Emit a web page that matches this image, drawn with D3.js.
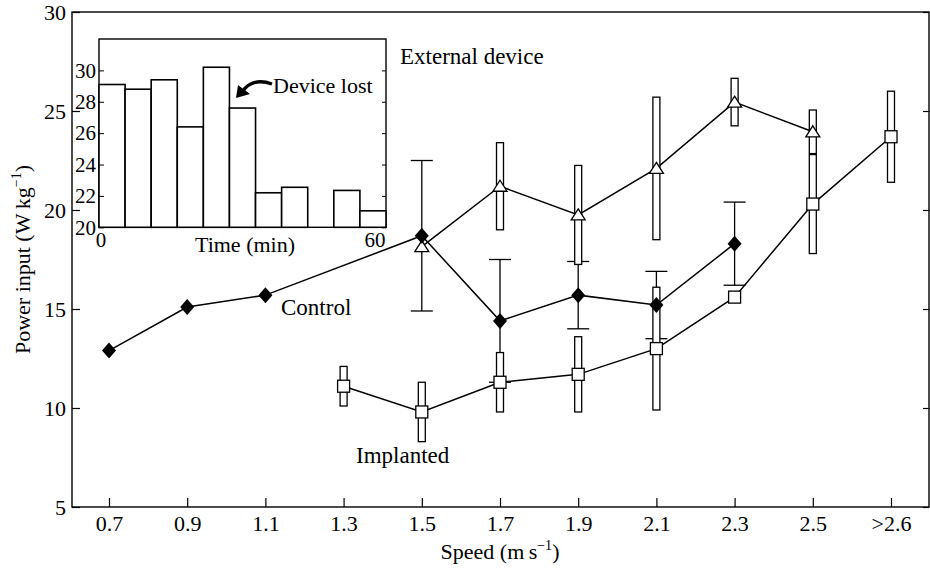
<!DOCTYPE html>
<html><head><meta charset="utf-8">
<script src="https://cdn.jsdelivr.net/npm/d3@7/dist/d3.min.js"></script>
<style>
html,body{margin:0;padding:0;background:#fff;}
svg{display:block;}
text{font-family:'Liberation Serif','Times New Roman',serif;fill:#000;}
</style></head>
<body><svg id="chart" width="930" height="568"></svg>
<script>
// ---------- data ----------
const speedLabels = ["0.7","0.9","1.1","1.3","1.5","1.7","1.9","2.1","2.3","2.5",">2.6"];
const yTicks = [5,10,15,20,25,30];

const controlSpeeds = ["0.7","0.9","1.1","1.5","1.7","1.9","2.1","2.3"];
const controlPower  = [12.9, 15.1, 15.7, 18.7, 14.4, 15.7, 15.2, 18.3];
const controlErr    = [null, null, null, 3.8, 3.1, 1.7, 1.7, 2.1];

const externalSpeeds = ["1.5","1.7","1.9","2.1","2.3","2.5"];
const externalPower  = [18.15, 21.2, 19.75, 22.1, 25.45, 23.95];
const externalErr    = [null, 2.2, 2.5, 3.6, 1.2, 1.1];

const implantedSpeeds = ["1.3","1.5","1.7","1.9","2.1","2.3","2.5",">2.6"];
const implantedPower  = [11.1, 9.8, 11.3, 11.7, 13.0, 15.6, 20.3, 23.7];
const implantedErr    = [1.0, 1.5, 1.5, 1.9, 3.1, null, 2.5, 2.3];

// inset histogram: power input per time bin (null = no bar)
const insetBinCount = 11;
const insetValues = [29.1, 28.8, 29.4, 26.4, 30.2, 27.6, 22.2, 22.55, null, 22.35, 21.05];
const insetYTicks = [20,22,24,26,28,30];
const insetXTicks = [0, 60];

// ---------- layout ----------
const svg = d3.select("#chart");
const L = 72, R = 929, T = 12, B = 507;

const x = d3.scalePoint().domain(speedLabels).range([109, 891]);
const y = d3.scaleLinear().domain([5, 30]).range([B, T]);

const g = svg.append("g");

// frame
g.append("rect").attr("x", L).attr("y", T).attr("width", R - L).attr("height", B - T)
  .attr("fill", "none").attr("stroke", "#000").attr("stroke-width", 1.4);

// y axis (inward ticks)
const yAx = g.append("g").attr("transform", `translate(${L},0)`)
  .call(d3.axisLeft(y).tickValues(yTicks).tickSizeInner(-8).tickSizeOuter(0).tickPadding(6));
yAx.select(".domain").remove();
yAx.selectAll("line").attr("stroke", "#000").attr("stroke-width", 1.2);
yAx.selectAll("text").attr("font-size", 22).attr("font-family", "'Liberation Serif',serif");
// right mirrored ticks
const yAxR = g.append("g").attr("transform", `translate(${R},0)`)
  .call(d3.axisRight(y).tickValues(yTicks).tickSizeInner(-6).tickSizeOuter(0).tickFormat(""));
yAxR.select(".domain").remove();
yAxR.selectAll("line").attr("stroke", "#000").attr("stroke-width", 1.2);

// x axis (inward ticks)
const xAx = g.append("g").attr("transform", `translate(0,${B})`)
  .call(d3.axisBottom(x).tickSizeInner(-9).tickSizeOuter(0).tickPadding(8));
xAx.select(".domain").remove();
xAx.selectAll("line").attr("stroke", "#000").attr("stroke-width", 1.2);
xAx.selectAll("text").attr("font-size", 22).attr("font-family", "'Liberation Serif',serif");

// axis titles
const xt = g.append("text").attr("x", 500).attr("y", 559).attr("text-anchor", "middle").attr("font-size", 22);
xt.append("tspan").text("Speed (m\u2009s");
xt.append("tspan").attr("dy", -9).attr("font-size", 14).text("\u22121");
xt.append("tspan").attr("dy", 9).text(")");

const yt = g.append("text").attr("transform", `translate(30,${(T + B) / 2}) rotate(-90)`)
  .attr("text-anchor", "middle").attr("font-size", 22);
yt.append("tspan").text("Power input (W\u2009kg");
yt.append("tspan").attr("dy", -9).attr("font-size", 14).text("\u22121");
yt.append("tspan").attr("dy", 9).text(")");

// ---------- series ----------
const zip = (s, v, e) => s.map((d, i) => ({s: d, v: v[i], e: e[i]}));
const control = zip(controlSpeeds, controlPower, controlErr);
const external = zip(externalSpeeds, externalPower, externalErr);
const implanted = zip(implantedSpeeds, implantedPower, implantedErr);

const line = d3.line().x(d => x(d.s)).y(d => y(d.v));
[control, external, implanted].forEach(ser => {
  g.append("path").datum(ser).attr("d", line).attr("fill", "none")
    .attr("stroke", "#000").attr("stroke-width", 1.5);
});

// control I-shaped error bars
const cErr = control.filter(d => d.e != null);
const ib = g.append("g").attr("stroke", "#000").attr("stroke-width", 1.3);
cErr.forEach(d => {
  const cx = x(d.s), y1 = y(d.v + d.e), y2 = y(d.v - d.e);
  ib.append("line").attr("x1", cx).attr("x2", cx).attr("y1", y1).attr("y2", y2);
  ib.append("line").attr("x1", cx - 11).attr("x2", cx + 11).attr("y1", y1).attr("y2", y1);
  ib.append("line").attr("x1", cx - 11).attr("x2", cx + 11).attr("y1", y2).attr("y2", y2);
});

// open rectangular error bars
const rectW = 7;
[external, implanted].forEach(ser => {
  g.append("g").selectAll("rect").data(ser.filter(d => d.e != null)).join("rect")
    .attr("x", d => x(d.s) - rectW / 2)
    .attr("y", d => y(d.v + d.e))
    .attr("width", rectW)
    .attr("height", d => y(d.v - d.e) - y(d.v + d.e))
    .attr("fill", "#fff").attr("stroke", "#000").attr("stroke-width", 1.3);
});

// markers
const diamond = "M0,-8L7,0L0,8L-7,0Z";
const triangle = "M0,-6L7,5L-7,5Z";
g.append("g").selectAll("path").data(external).join("path")
  .attr("d", triangle).attr("transform", d => `translate(${x(d.s)},${y(d.v)})`)
  .attr("fill", "#fff").attr("stroke", "#000").attr("stroke-width", 1.3);
g.append("g").selectAll("rect").data(implanted).join("rect")
  .attr("x", d => x(d.s) - 6).attr("y", d => y(d.v) - 6).attr("width", 12).attr("height", 12)
  .attr("fill", "#fff").attr("stroke", "#000").attr("stroke-width", 1.3);
g.append("g").selectAll("path").data(control).join("path")
  .attr("d", diamond).attr("transform", d => `translate(${x(d.s)},${y(d.v)})`)
  .attr("fill", "#000");

// series labels
g.append("text").attr("x", 400).attr("y", 64).attr("font-size", 23).text("External device");
g.append("text").attr("x", 281).attr("y", 315).attr("font-size", 23).text("Control");
g.append("text").attr("x", 356).attr("y", 463).attr("font-size", 23).text("Implanted");

// ---------- inset ----------
const iL = 99, iR = 386, iT = 39, iB = 227.3;
const ix = d3.scaleLinear().domain([0, 60]).range([iL, iR]);
const iy = d3.scaleLinear().domain([20, 32]).range([iB, iT]);
const ig = svg.append("g");
ig.append("rect").attr("x", iL).attr("y", iT).attr("width", iR - iL).attr("height", iB - iT)
  .attr("fill", "#fff").attr("stroke", "#000").attr("stroke-width", 1.4);

const binW = 60 / insetBinCount;
const bins = insetValues.map((v, i) => ({x0: i * binW, x1: (i + 1) * binW, v}));
ig.append("g").selectAll("rect").data(bins.filter(b => b.v != null)).join("rect")
  .attr("x", d => ix(d.x0)).attr("y", d => iy(d.v))
  .attr("width", d => ix(d.x1) - ix(d.x0)).attr("height", d => iy(20) - iy(d.v))
  .attr("fill", "#fff").attr("stroke", "#000").attr("stroke-width", 1.6);

const iyAx = ig.append("g").attr("transform", `translate(${iL},0)`)
  .call(d3.axisLeft(iy).tickValues(insetYTicks).tickSizeInner(-5).tickSizeOuter(0).tickPadding(3));
iyAx.select(".domain").remove();
iyAx.selectAll("line").attr("stroke", "#000");
iyAx.selectAll("text").attr("font-size", 21).attr("font-family", "'Liberation Serif',serif");
const iyAxR = ig.append("g").attr("transform", `translate(${iR},0)`)
  .call(d3.axisRight(iy).tickValues(insetYTicks).tickSizeInner(-4).tickSizeOuter(0).tickFormat(""));
iyAxR.select(".domain").remove();
iyAxR.selectAll("line").attr("stroke", "#000");

ig.selectAll(null).data(insetXTicks).join("text")
  .attr("x", d => d === 0 ? ix(d) + 2 : ix(d) - 11)
  .attr("y", iB + 20).attr("text-anchor", "middle").attr("font-size", 21).text(d => d);
ig.append("text").attr("x", 245).attr("y", 252).attr("text-anchor", "middle").attr("font-size", 22).text("Time (min)");
ig.append("text").attr("x", 273).attr("y", 93).attr("font-size", 22).text("Device lost");

// curved arrow
ig.append("path").attr("d", "M272,84 C258,79 248,83 243,91")
  .attr("fill", "none").attr("stroke", "#000").attr("stroke-width", 3.4);
ig.append("path").attr("d", "M236,98 L238,85 L250,94 Z").attr("fill", "#000");
</script></body></html>
